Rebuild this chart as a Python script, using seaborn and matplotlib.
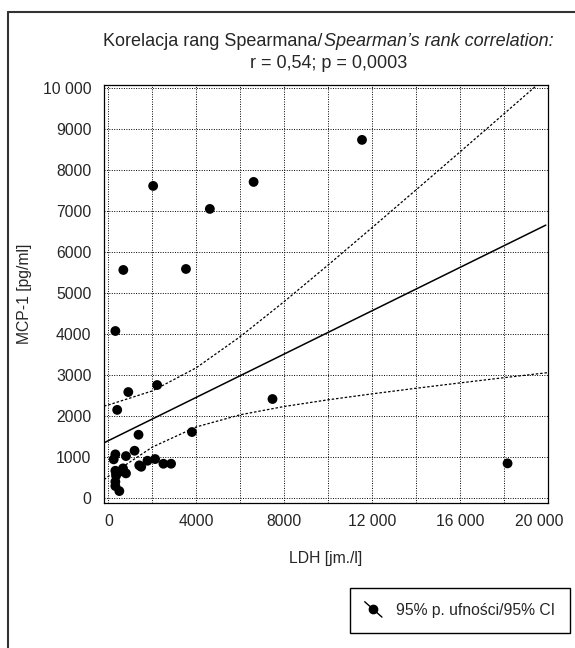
import numpy as np
import pandas as pd
import matplotlib
matplotlib.use("Agg")
import matplotlib.pyplot as plt
import seaborn as sns
from matplotlib import font_manager
from matplotlib.lines import Line2D
from matplotlib.legend_handler import HandlerBase
from matplotlib.transforms import ScaledTranslation

# scatter values (LDH [jm./l], MCP-1 [pg/ml])
ldh = [679, 2036, 3529, 4615, 6606, 11538, 317, 400, 905, 2217, 7466, 18160,
       1371, 3801, 317, 241, 800, 1190, 1778, 2127, 2502, 2851, 1403, 1493,
       317, 498, 665, 800, 348, 317, 317, 498]
mcp1 = [5561, 7610, 5585, 7049, 7707, 8732, 4073, 2150, 2585, 2756, 2415, 846,
        1544, 1610, 1066, 944, 1024, 1154, 910, 951, 837, 837, 798, 763,
        666, 641, 724, 602, 544, 398, 293, 171]

# regression line and 95% CI curves, read at a few x positions
fit_x = [-200, 19900]
fit_y = [1347, 6654]
ci_x = [-200, 0, 2000, 4000, 6000, 8000, 10000, 12000, 14000, 16000, 18000, 20000]
ci_upper = [2244, 2270, 2613, 3177, 3937, 4791, 5684, 6595, 7515, 8440, 9369, 10301]
ci_lower = [450, 530, 1243, 1735, 2031, 2233, 2396, 2541, 2677, 2808, 2935, 3059]

x_ticks = [0, 4000, 8000, 12000, 16000, 20000]
x_labels = ["0", "4000", "8000", "12 000", "16 000", "20 000"]
y_ticks = [0, 1000, 2000, 3000, 4000, 5000, 6000, 7000, 8000, 9000, 10000]
y_labels = ["0", "1000", "2000", "3000", "4000", "5000", "6000", "7000", "8000", "9000", "10 000"]

sns.set_style("white")

# pick a narrow face if there is one, otherwise plain Arial-metric sans
installed = {f.name for f in font_manager.fontManager.ttflist}
if "Liberation Sans Narrow" in installed:
    plt.rcParams["font.family"] = ["Liberation Sans Narrow", "DejaVu Sans"]
    FS = 13.5
else:
    plt.rcParams["font.family"] = ["Liberation Sans", "DejaVu Sans"]
    FS = 11.3


class DotLineHandler(HandlerBase):
    def create_artists(self, legend, orig_handle, xdescent, ydescent,
                       width, height, fontsize, trans):
        x0, y0 = -xdescent, -ydescent
        xa, xb = x0, x0 + width
        ya, yb = y0 + 1.2 * height, y0 - 0.2 * height
        ln = Line2D([xa, xb], [ya, yb], color="black", lw=1.0, transform=trans)
        dot = Line2D([(xa + xb) / 2], [(ya + yb) / 2], marker="o", ms=6,
                     color="black", ls="none", transform=trans)
        return [ln, dot]


fig = plt.figure(figsize=(5.75, 6.48), dpi=100)
ax = fig.add_axes([104 / 575, 1 - 503 / 648, 444 / 575, 418 / 648])

pts = pd.DataFrame({"ldh": ldh, "mcp1": mcp1})
sns.scatterplot(data=pts, x="ldh", y="mcp1", ax=ax, color="black", s=50,
                edgecolor="none", zorder=5)
sns.lineplot(x=fit_x, y=fit_y, ax=ax, color="black", lw=1.1, zorder=4)
sns.lineplot(x=ci_x, y=ci_upper, ax=ax, color="black", lw=0.9, ls=(0, (2, 1.5)), zorder=4)
sns.lineplot(x=ci_x, y=ci_lower, ax=ax, color="black", lw=0.9, ls=(0, (2, 1.5)), zorder=4)

ax.set_xlim(-200, 20000)
ax.set_ylim(-120, 10070)
ax.set_xticks(x_ticks)
ax.set_xticklabels(x_labels, fontsize=FS)
ax.set_xticks(np.arange(2000, 20000, 4000), minor=True)
ax.set_yticks(y_ticks)
ax.set_yticklabels(y_labels, fontsize=FS)
ax.tick_params(which="both", direction="in", length=3, width=0.8, color="black")
ax.tick_params(axis="x", pad=8)
ax.tick_params(axis="y", pad=9)
# last x label sits a little left of its tick in the reference
lab = ax.get_xticklabels()[-1]
lab.set_transform(lab.get_transform() + ScaledTranslation(-9 / 100, 0, fig.dpi_scale_trans))
ax.grid(True, which="both", color="black", ls=(0, (1, 1.5)), lw=0.7)
ax.set_axisbelow(True)
for s in ax.spines.values():
    s.set_color("black")
    s.set_linewidth(0.9)

ax.set_xlabel("LDH [jm./l]", fontsize=FS, labelpad=16)
ax.set_ylabel("MCP-1 [pg/ml]", fontsize=FS, labelpad=8)

# two-line title, second half of line 1 in italics; scale to the reference width
t1 = fig.text(0, 1 - 41 / 648, "Korelacja rang Spearmana/", ha="left",
              va="center", fontsize=FS)
t2 = fig.text(0, 1 - 41 / 648, "Spearman\u2019s rank correlation:", ha="left",
              va="center", fontsize=FS, style="italic")
fig.canvas.draw()
r = fig.canvas.get_renderer()
w1 = t1.get_window_extent(r).width
w2 = t2.get_window_extent(r).width
k = min(1.15, 462 / (w1 + w2))
t1.set_fontsize(FS * k)
t2.set_fontsize(FS * k)
x_start = 329 - (w1 + w2) * k / 2
t1.set_x(x_start / 575)
t2.set_x((x_start + w1 * k) / 575)
fig.text(329 / 575, 1 - 64 / 648, "r = 0,54; p = 0,0003", ha="center",
         va="center", fontsize=FS * k)

fig.legend(handles=[Line2D([0], [0], color="black", marker="o")],
           labels=["95% p. ufno\u015bci/95% CI"],
           handler_map={Line2D: DotLineHandler()},
           loc="upper right", bbox_to_anchor=(570 / 575, 1 - 588 / 648),
           borderaxespad=0, fancybox=False, edgecolor="black", framealpha=1,
           fontsize=FS, handlelength=1.1, handletextpad=0.9, borderpad=0.95)
for lg in fig.legends:
    lg.get_frame().set_linewidth(1.0)

# page frame: top and left rule
fig.add_artist(Line2D([8 / 575, 1], [1 - 12 / 648, 1 - 12 / 648], color="#333333", lw=1.5))
fig.add_artist(Line2D([8 / 575, 8 / 575], [0, 1 - 12 / 648], color="#333333", lw=1.5))

fig.savefig("out.png", dpi=100)
